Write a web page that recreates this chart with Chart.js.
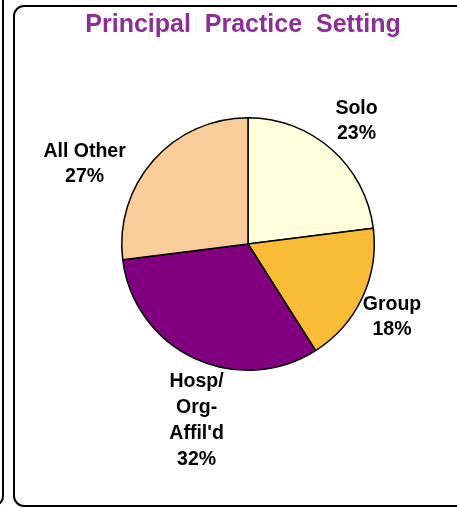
<!DOCTYPE html>
<html>
<head>
<meta charset="utf-8">
<script src="https://cdn.jsdelivr.net/npm/chart.js@4/dist/chart.umd.min.js"></script>
<style>
    html, body { margin: 0; padding: 0; background: #fff; }
    #wrap { position: relative; width: 457px; height: 508px; overflow: hidden; }
    #chart { position: absolute; left: 0; top: 0; }
    .panel { position: absolute; border: 2px solid #000; border-radius: 11px; pointer-events: none; }
</style>
</head>
<body>
<div id="wrap">
    <div class="panel" style="left:-40px; top:-20px; width:40px; height:523px;"></div>
    <div class="panel" style="left:13px; top:5px; width:470px; height:498px;"></div>
    <canvas id="chart" width="457" height="508"></canvas>
</div>
<script>
const chartTitle = 'Principal  Practice  Setting';
const categories = ['Solo', 'Group', 'Hosp/\nOrg-\nAffil\'d', 'All Other'];
const shares = [23, 18, 32, 27];
const sliceColors = ['#FFFFDC', '#F9BC36', '#800080', '#F8CD99'];

// label placement: distance (x radius) and angle shift (deg) from slice middle
const labelPlace = [
    { dist: 1.30, shift: 0 },
    { dist: 1.28, shift: 1.8 },
    { dist: 1.46, shift: -9 },
    { dist: 1.44, shift: -15.4 }
];

const FONT = '"Liberation Sans", Arial, sans-serif';

// title drawn by hand so it isn't squeezed into the chart area width
const titlePlugin = {
    id: 'titlePlugin',
    afterDraw(chart) {
        const ctx = chart.ctx;
        ctx.save();
        ctx.font = 'bold 25px ' + FONT;
        ctx.fillStyle = '#8B2F96';
        ctx.textAlign = 'center';
        ctx.textBaseline = 'alphabetic';
        ctx.fillText(chartTitle, 243, 32);
        ctx.restore();
    }
};

const sliceLabels = {
    id: 'sliceLabels',
    afterDatasetsDraw(chart) {
        const ctx = chart.ctx;
        const meta = chart.getDatasetMeta(0);
        ctx.save();
        ctx.font = 'bold 19.5px ' + FONT;
        ctx.fillStyle = '#000';
        ctx.textAlign = 'center';
        ctx.textBaseline = 'middle';
        meta.data.forEach((arc, i) => {
            const p = arc.getProps(['x', 'y', 'startAngle', 'endAngle', 'outerRadius'], true);
            const mid = (p.startAngle + p.endAngle) / 2 + labelPlace[i].shift * Math.PI / 180;
            const r = p.outerRadius * labelPlace[i].dist;
            const cx = p.x + Math.cos(mid) * r;
            const cy = p.y + Math.sin(mid) * r;
            const lines = categories[i].split('\n').concat([shares[i] + '%']);
            const lh = lines.length > 2 ? 26 : 25;
            lines.forEach((t, k) => {
                ctx.fillText(t, cx, cy + (k - (lines.length - 1) / 2) * lh);
            });
        });
        ctx.restore();
    }
};

new Chart(document.getElementById('chart'), {
    type: 'pie',
    data: {
        labels: categories,
        datasets: [{
            data: shares,
            backgroundColor: sliceColors,
            borderColor: '#000',
            borderWidth: 1.5
        }]
    },
    options: {
        responsive: false,
        animation: false,
        layout: { padding: { left: 121, right: 82, top: 117, bottom: 137 } },
        plugins: {
            legend: { display: false },
            tooltip: { enabled: false },
            title: { display: false }
        }
    },
    plugins: [sliceLabels, titlePlugin]
});
</script>
</body>
</html>
